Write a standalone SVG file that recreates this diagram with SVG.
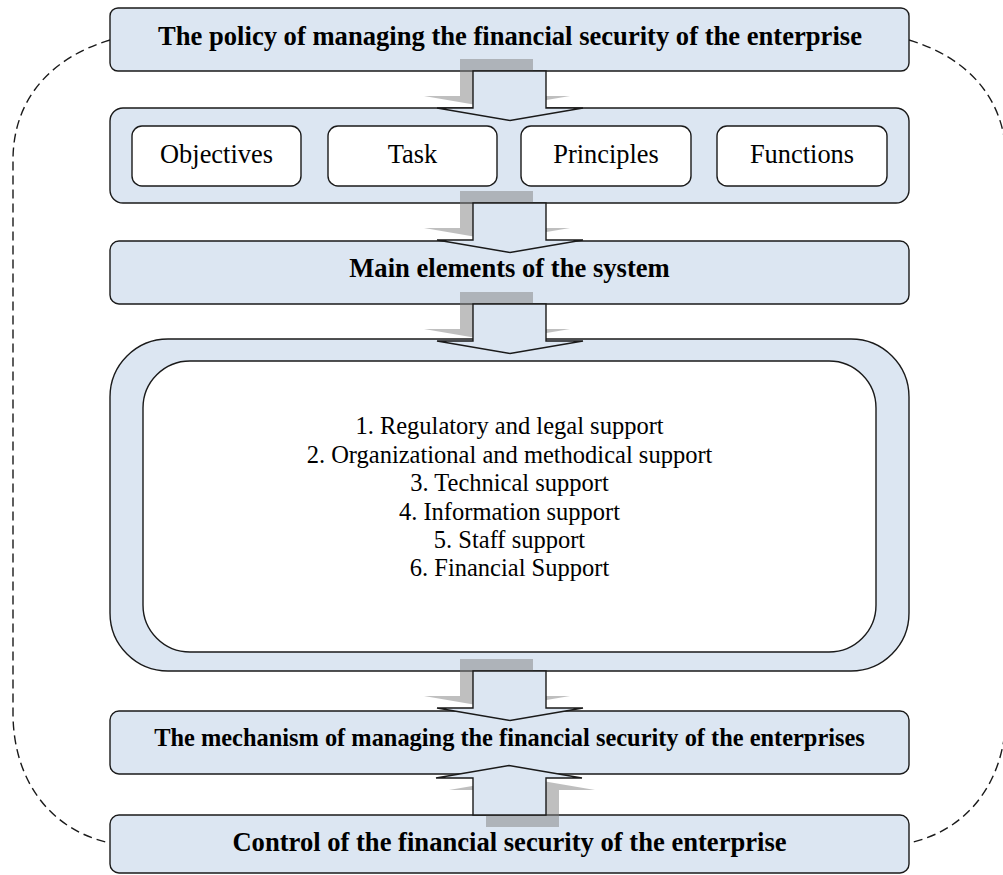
<svg xmlns="http://www.w3.org/2000/svg" width="1003" height="875" viewBox="0 0 1003 875">
  <style>
    .box { fill: #dce6f2; stroke: #1a1a1a; stroke-width: 1.4; }
    .card { fill: #ffffff; stroke: #1a1a1a; stroke-width: 1.4; }
    text { font-family: 'Liberation Serif', 'Times New Roman', serif; fill: #000; text-anchor: middle; }
    .title { font-weight: bold; font-size: 26.6px; }
    .title.small { font-size: 24.4px; }
    .label { font-size: 26.4px; }
    .item { font-size: 24.5px; }
    .flow { fill: #dce6f2; stroke: #1a1a1a; stroke-width: 1.4; stroke-linejoin: miter; }
    .shade { fill: #808080; opacity: 0.5; }
    .loop { fill: none; stroke: #1a1a1a; stroke-width: 1.4; stroke-dasharray: 9 5; }
  </style>
  <defs>
    <!-- block arrow pointing down, origin at top of shaft centre -->
    <path id="down-arrow" d="M-37,0 L-37,37 L-73,37 L0,49.5 L73,37 L36,37 L36,0 Z"/>
    <!-- soft grey shade cast by a block arrow -->
    <path id="down-shade" d="M-50,-12 L-50,25 L-86,25 L-13,37.5 L60,25 L23,25 L23,-12 Z"/>
  </defs>

  <!-- feedback loops -->
  <g id="loops">
    <path class="loop" d="M110,40 C50,58 13,100 13,160 L13,713 C13,780 50,830 110,843"/>
    <path class="loop" d="M909,40 C969,58 1006,100 1006,160 L1006,713 C1006,780 969,830 909,843"/>
  </g>

  <g id="policy">
    <rect class="box" x="110" y="8" width="799" height="63" rx="8"/>
    <text class="title" x="510" y="45">The policy of managing the financial security of the enterprise</text>
  </g>

  <g id="components">
    <rect class="box" x="110" y="108" width="799" height="95" rx="13"/>
    <g id="objectives">
      <rect class="card" x="132" y="126" width="169" height="60" rx="10"/>
      <text class="label" x="216.5" y="163">Objectives</text>
    </g>
    <g id="task">
      <rect class="card" x="328" y="126" width="169" height="60" rx="10"/>
      <text class="label" x="412.5" y="163">Task</text>
    </g>
    <g id="principles">
      <rect class="card" x="521" y="126" width="170" height="60" rx="10"/>
      <text class="label" x="606" y="163">Principles</text>
    </g>
    <g id="functions">
      <rect class="card" x="717" y="126" width="170" height="60" rx="10"/>
      <text class="label" x="802" y="163">Functions</text>
    </g>
  </g>

  <g id="main-elements">
    <rect class="box" x="110" y="241" width="799" height="63" rx="9"/>
    <text class="title" x="509.5" y="277">Main elements of the system</text>
  </g>

  <g id="support">
    <rect class="box" x="110" y="339" width="799" height="332" rx="58"/>
    <rect class="card" x="143" y="361" width="733" height="291" rx="47"/>
    <text class="item" x="509.5" y="434">1. Regulatory and legal support</text>
    <text class="item" x="509.5" y="462.5">2. Organizational and methodical support</text>
    <text class="item" x="509.5" y="491">3. Technical support</text>
    <text class="item" x="509.5" y="519.5">4. Information support</text>
    <text class="item" x="509.5" y="547.5">5. Staff support</text>
    <text class="item" x="509.5" y="576">6. Financial Support</text>
  </g>

  <g id="mechanism">
    <rect class="box" x="110" y="711" width="799" height="63" rx="9"/>
    <text class="title small" x="509.5" y="746">The mechanism of managing the financial security of the enterprises</text>
  </g>

  <g id="control">
    <rect class="box" x="110" y="815" width="799" height="58" rx="9"/>
    <text class="title" x="509.5" y="851">Control of the financial security of the enterprise</text>
  </g>

  <!-- block arrows between the levels -->
  <g id="connectors">
    <g transform="translate(510,71)">
      <use href="#down-shade" class="shade"/>
      <use href="#down-arrow" class="flow"/>
    </g>
    <g transform="translate(510,203)">
      <use href="#down-shade" class="shade"/>
      <use href="#down-arrow" class="flow"/>
    </g>
    <g transform="translate(510,304)">
      <use href="#down-shade" class="shade"/>
      <use href="#down-arrow" class="flow"/>
    </g>
    <g transform="translate(510,671)">
      <use href="#down-shade" class="shade"/>
      <use href="#down-arrow" class="flow"/>
    </g>
    <g transform="translate(509,815) rotate(180)">
      <use href="#down-shade" class="shade"/>
      <use href="#down-arrow" class="flow"/>
    </g>
  </g>
</svg>
